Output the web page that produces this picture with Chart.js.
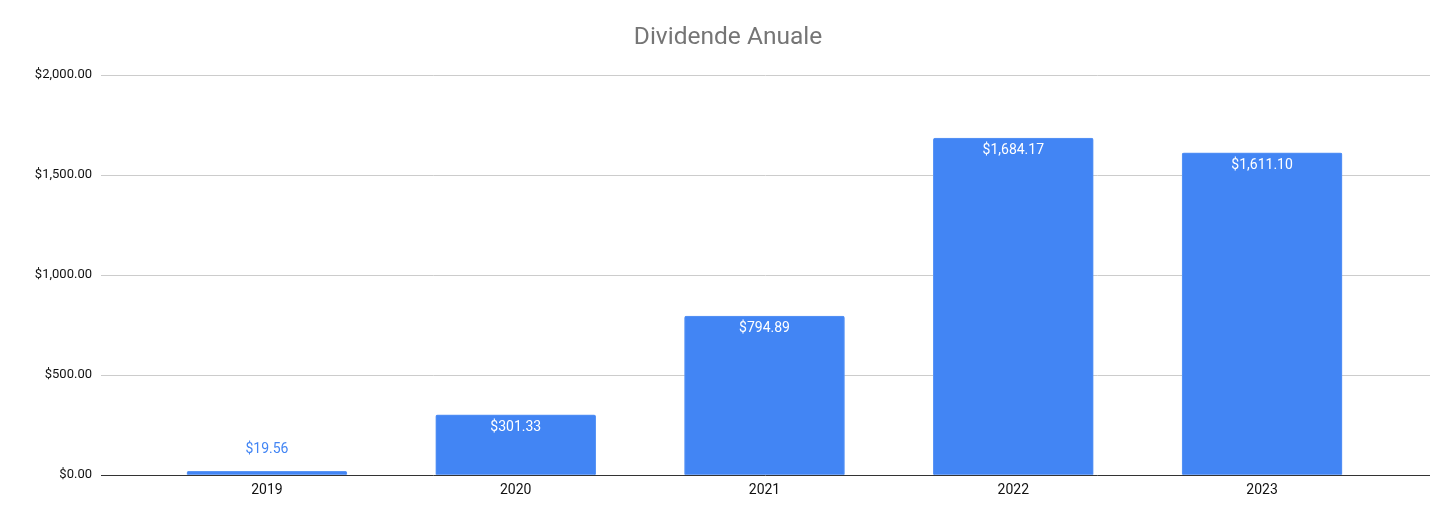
<!DOCTYPE html>
<html>
<head>
<meta charset="utf-8">
<script src="https://cdn.jsdelivr.net/npm/chart.js@4"></script>
<style>
html,body{margin:0;padding:0;background:#fff;}
#wrap{width:1456px;height:522px;}
</style>
</head>
<body>
<div id="wrap"><canvas id="c" width="1456" height="522"></canvas></div>
<script>
const categories = ['2019', '2020', '2021', '2022', '2023'];
const dividends = [19.56, 301.33, 794.89, 1684.17, 1611.10];
const yTicks = [0, 500, 1000, 1500, 2000];
const chartTitle = 'Dividende Anuale';

const FONT = 'Roboto, "Liberation Sans", Arial, sans-serif';
const money = v => '$' + Number(v).toLocaleString('en-US', {minimumFractionDigits: 2, maximumFractionDigits: 2});

const labelPlugin = {
  id: 'barLabels',
  afterDatasetsDraw(chart) {
    const ctx = chart.ctx;
    const meta = chart.getDatasetMeta(0);
    ctx.save();
    ctx.font = '14px ' + FONT;
    ctx.textAlign = 'center';
    ctx.textBaseline = 'middle';
    meta.data.forEach((bar, i) => {
      const h = bar.base - bar.y;
      const txt = money(dividends[i]);
      if (h > 28) {
        ctx.fillStyle = '#ffffff';
        ctx.fillText(txt, bar.x, bar.y + 12.5);
      } else {
        ctx.fillStyle = '#4285f4';
        ctx.fillText(txt, bar.x, bar.y - 22);
      }
    });
    ctx.restore();
  }
};

new Chart(document.getElementById('c'), {
  type: 'bar',
  data: {
    datasets: [{
      data: dividends.map((v, i) => ({x: i, y: v})),
      backgroundColor: '#4285f4',
      borderColor: '#5a95f5',
      borderWidth: 1,
      borderRadius: 2,
      borderSkipped: 'bottom',
      barThickness: 160
    }]
  },
  options: {
    responsive: false,
    animation: false,
    devicePixelRatio: 1,
    layout: {padding: {left: 0, right: 0, top: 0, bottom: 16}},
    plugins: {
      legend: {display: false},
      tooltip: {enabled: false},
      title: {
        display: true,
        text: chartTitle,
        color: '#757575',
        font: {family: FONT, size: 24.5, weight: 'normal'},
        padding: {top: 23, bottom: 22.6}
      }
    },
    scales: {
      x: {
        type: 'linear',
        offset: false,
        min: -0.667,
        max: 4.675,
        afterBuildTicks: s => { s.ticks = categories.map((c, i) => ({value: i})); },
        ticks: {
          callback: v => categories[v] ?? '',
          color: '#111',
          font: {family: FONT, size: 14},
          padding: 7,
          maxRotation: 0,
          autoSkip: false
        },
        grid: {display: false, drawTicks: false, offset: false},
        border: {display: false}
      },
      y: {
        min: 0,
        max: 2000,
        afterBuildTicks: s => { s.ticks = yTicks.map(v => ({value: v})); },
        afterFit: s => { s.width = 101; },
        ticks: {
          callback: v => money(v),
          color: '#111',
          font: {family: FONT, size: 13},
          padding: 9
        },
        grid: {
          color: c => c.tick && c.tick.value === 0 ? '#333333' : '#cccccc',
          lineWidth: 1,
          drawTicks: false
        },
        border: {display: false}
      },
      yRight: {
        type: 'linear',
        position: 'right',
        min: 0,
        max: 2000,
        afterFit: s => { s.width = 26; },
        ticks: {display: false},
        grid: {display: false, drawTicks: false},
        border: {display: false}
      }
    }
  },
  plugins: [labelPlugin]
});
</script>
</body>
</html>
